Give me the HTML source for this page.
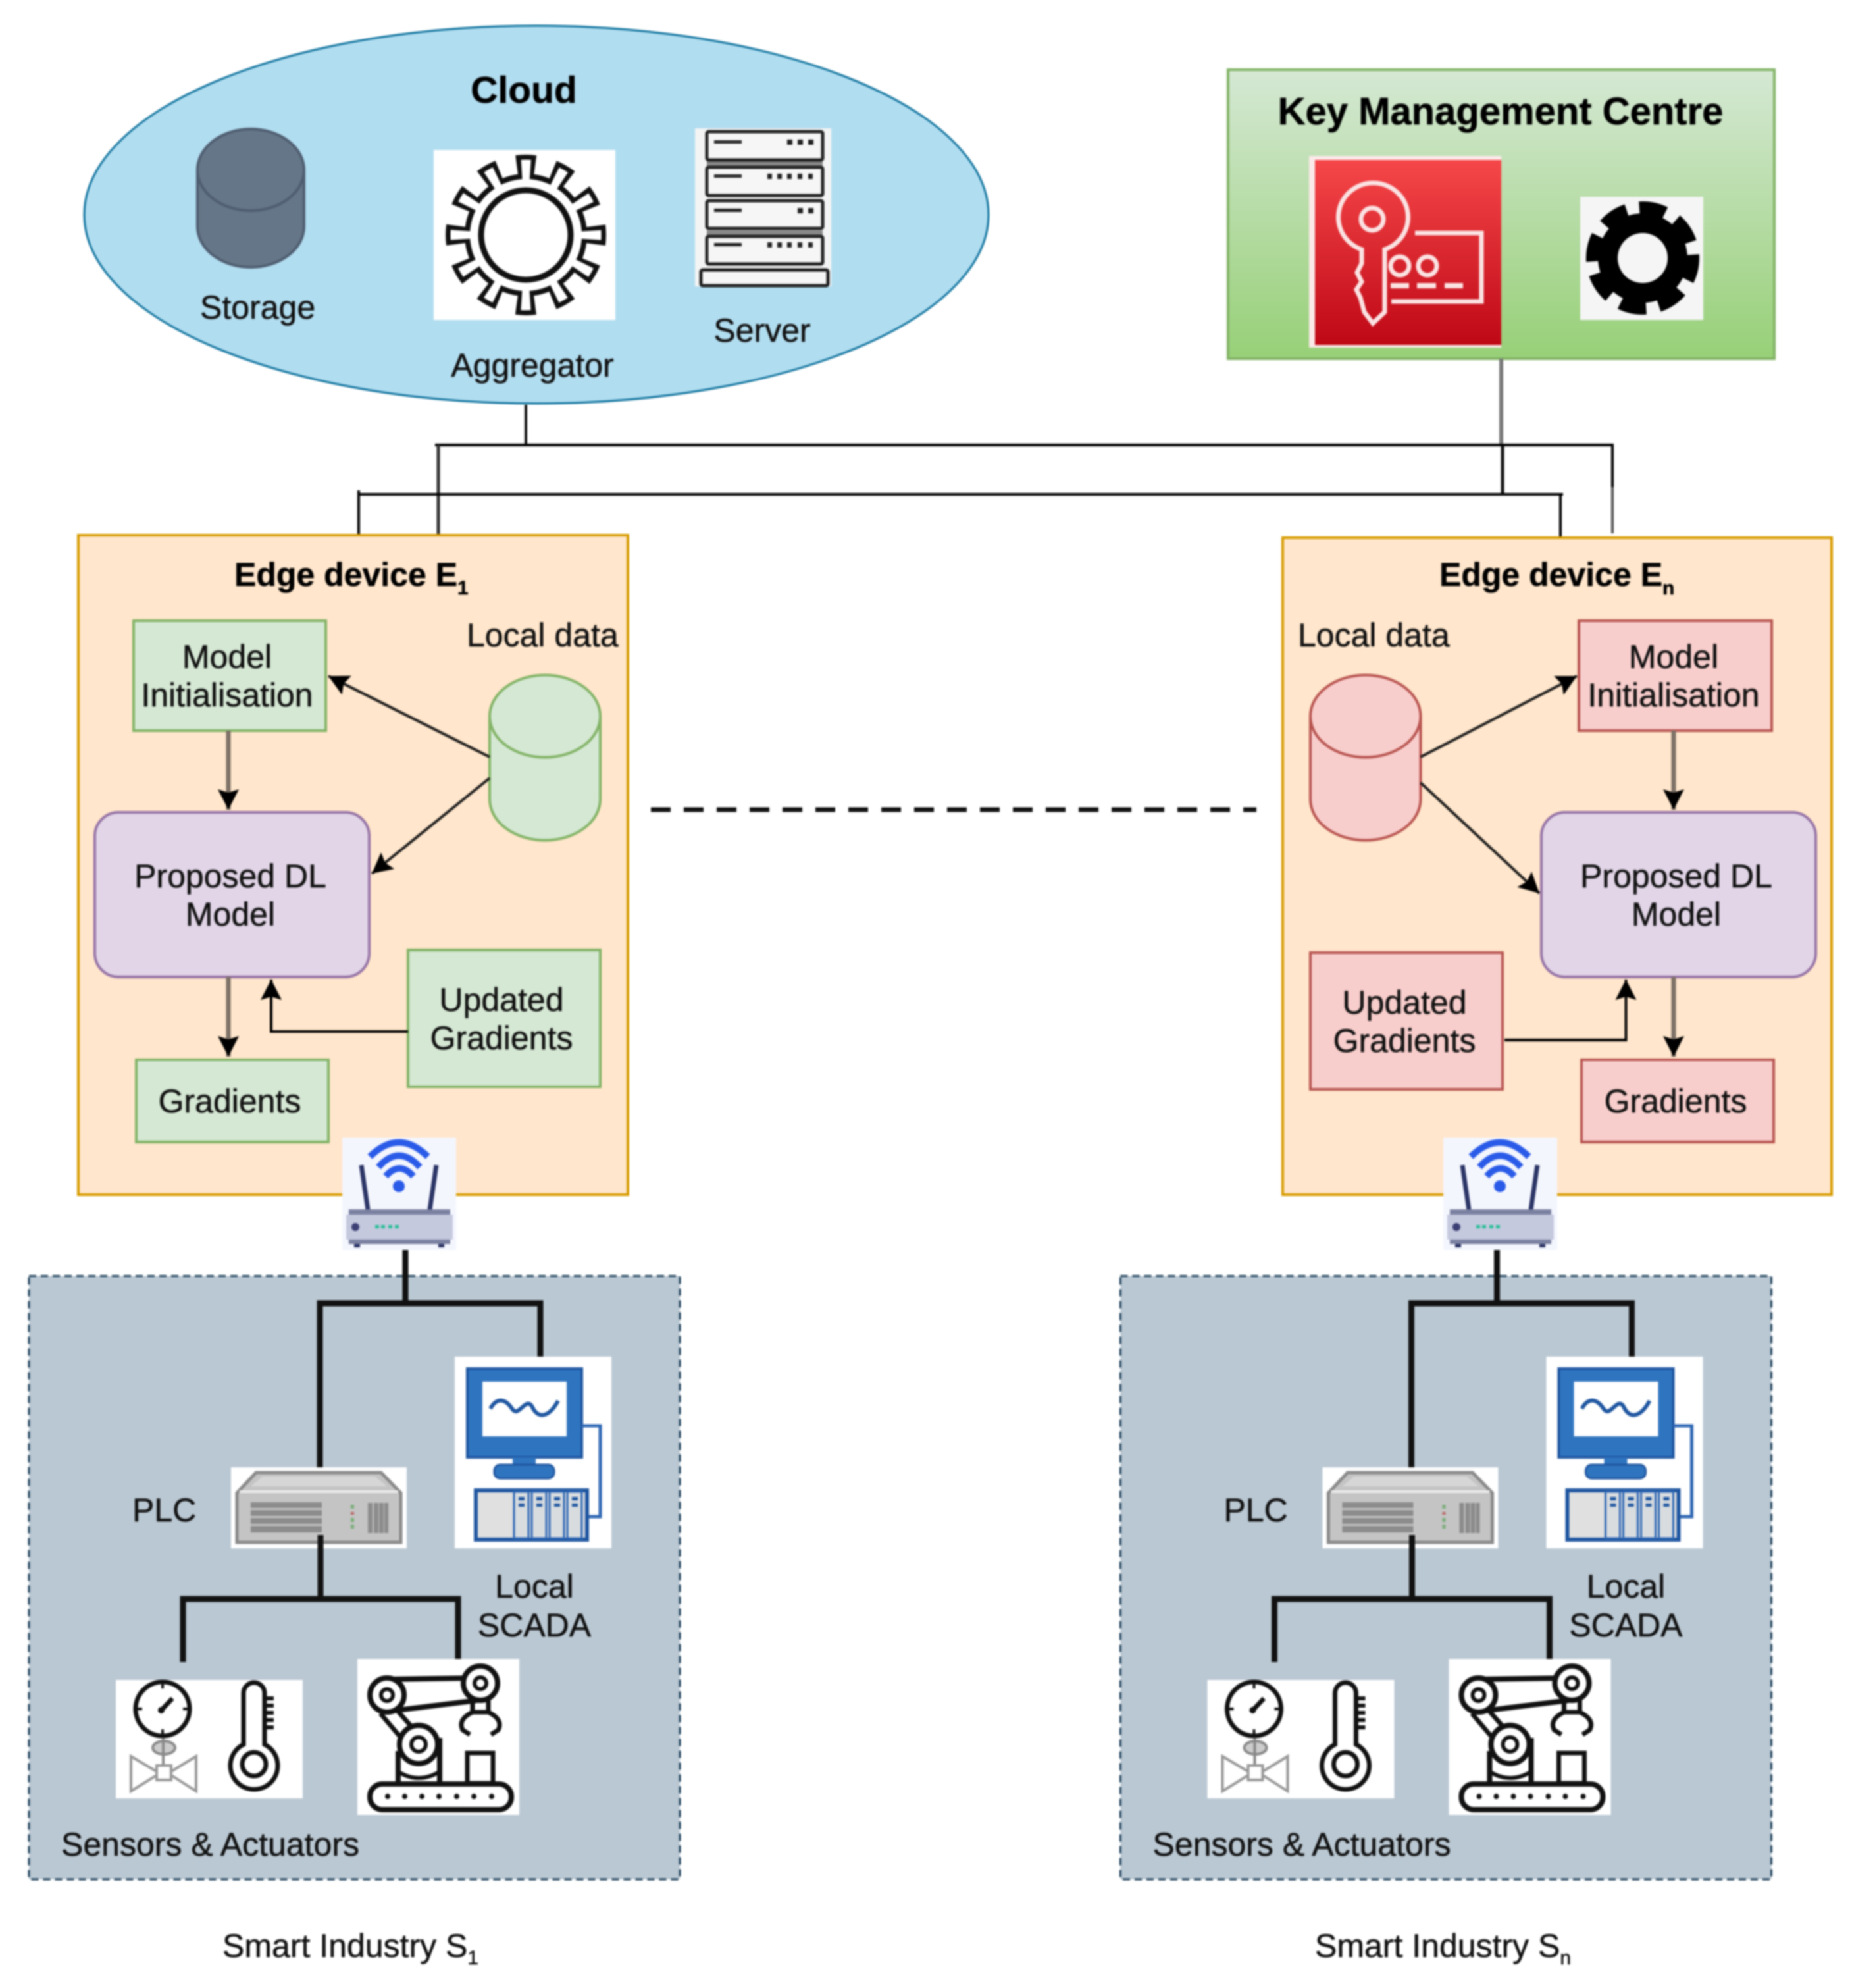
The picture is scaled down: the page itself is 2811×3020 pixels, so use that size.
<!DOCTYPE html>
<html>
<head>
<meta charset="utf-8">
<title>Edge federated learning architecture</title>
<style>
html,body{margin:0;padding:0;background:#fff;width:2811px;height:3020px;overflow:hidden}
svg{display:block;filter:blur(1.3px)}
text{font-family:"Liberation Sans",sans-serif;font-size:50px;fill:#111;stroke:#111;stroke-width:.5px}
.b{font-weight:700;fill:#000;stroke:#000}
.m{text-anchor:middle}
</style>
</head>
<body>
<svg width="2811" height="3020" viewBox="0 0 2811 3020" xmlns="http://www.w3.org/2000/svg">
<defs>
<linearGradient id="kmc" x1="0" y1="0" x2="0" y2="1"><stop offset="0" stop-color="#d5e8d4"/><stop offset="1" stop-color="#97d077"/></linearGradient>
<linearGradient id="red" x1="0" y1="0" x2="0" y2="1"><stop offset="0" stop-color="#f54749"/><stop offset="1" stop-color="#bf0816"/></linearGradient>
<marker id="ah" markerUnits="userSpaceOnUse" markerWidth="34" markerHeight="36" viewBox="0 -18 34 36" refX="31" refY="0" orient="auto">
<path d="M0,-16 L31,0 L0,16 L5,0 Z" fill="#000"/>
</marker>

<g id="router">
<rect x="520" y="1728" width="173" height="171" fill="#f4f6fe"/>
<g fill="none" stroke="#2a5be8" stroke-width="10">
<path d="M562,1757 Q606,1714 650,1757"/>
<path d="M575,1773 Q606,1738 638,1773"/>
<path d="M586,1787 Q607,1763 628,1787"/>
</g>
<circle cx="606" cy="1802" r="9" fill="#2a5be8"/>
<path d="M549,1770 L559,1838 M663,1770 L653,1838" stroke="#2b3566" stroke-width="7" fill="none"/>
<rect x="530" y="1837" width="154" height="9" fill="#7a80a0"/>
<rect x="526" y="1845" width="162" height="38" fill="#c5c9de"/>
<rect x="530" y="1883" width="154" height="7" fill="#7a80a0"/>
<rect x="538" y="1890" width="9" height="5" fill="#2b3566"/>
<rect x="666" y="1890" width="9" height="5" fill="#2b3566"/>
<circle cx="540" cy="1864" r="6" fill="#3b3f73"/>
<g fill="#2fbf9a"><rect x="570" y="1861" width="6" height="5"/><rect x="579" y="1861" width="6" height="5"/><rect x="590" y="1861" width="6" height="5"/><rect x="600" y="1861" width="6" height="5"/></g>
</g>

<g id="sind">
<rect x="44" y="1938.5" width="989" height="916.5" fill="#bac8d3" stroke="#23445d" stroke-width="3" stroke-dasharray="11 7"/>
<path d="M616,1890 V1980" stroke="#111" stroke-width="9" fill="none"/>
<path d="M486,2232 V1980 H821 V2063" stroke="#111" stroke-width="9" fill="none"/>

<!-- PLC -->
<rect x="351" y="2229" width="267" height="123" fill="#fff"/>
<path d="M360,2268 L389,2237 H579 L609,2268 V2343 H360 Z" fill="#c4c4c4" stroke="#8a8a8a" stroke-width="5"/>
<path d="M381,2258 L399,2243 H570 L588,2258 Z" fill="#d6d6d6"/>
<path d="M364,2266 H605" stroke="#ececec" stroke-width="4"/>
<g fill="#8c8c8c"><rect x="381" y="2282" width="108" height="9"/><rect x="381" y="2294" width="108" height="9"/><rect x="381" y="2306" width="108" height="9"/><rect x="381" y="2318" width="108" height="10"/></g>
<g fill="#7cae7c"><rect x="533" y="2286" width="5" height="6"/><rect x="533" y="2306" width="5" height="6"/><rect x="533" y="2316" width="5" height="6"/></g>
<rect x="533" y="2297" width="5" height="4" fill="#b66"/>
<g fill="#8c8c8c"><rect x="559" y="2283" width="7" height="46"/><rect x="568" y="2283" width="7" height="46"/><rect x="576" y="2283" width="7" height="46"/><rect x="584" y="2283" width="6" height="46"/></g>
<path d="M487,2332 V2429 M278,2525 V2429 H696 V2525" stroke="#111" stroke-width="9" fill="none"/>

<!-- SCADA -->
<rect x="691" y="2061" width="238" height="291" fill="#fff"/>
<rect x="710" y="2079" width="174" height="135" fill="#2f74bf" stroke="#1f56a0" stroke-width="4"/>
<rect x="733" y="2099" width="128" height="83" fill="#fff"/>
<path d="M745,2140 C755,2122 768,2125 778,2140 C788,2155 798,2122 808,2136 C818,2158 835,2152 848,2128" fill="none" stroke="#1f56a0" stroke-width="6"/>
<rect x="779" y="2214" width="35" height="12" fill="#2f74bf"/>
<rect x="751" y="2225" width="91" height="21" rx="9" fill="#2f74bf" stroke="#1f56a0" stroke-width="3"/>
<path d="M884,2166 H912 V2304 H892" fill="none" stroke="#2f67b4" stroke-width="5"/>
<rect x="723" y="2264" width="169" height="75" fill="#e0e0e0" stroke="#1f56a0" stroke-width="6"/>
<g fill="#d8dcdf" stroke="#2f67b4" stroke-width="3"><rect x="781" y="2266" width="22" height="71"/><rect x="808" y="2266" width="22" height="71"/><rect x="835" y="2266" width="22" height="71"/><rect x="862" y="2266" width="22" height="71"/></g>
<g fill="#1f56a0"><rect x="788" y="2274" width="9" height="5"/><rect x="788" y="2284" width="9" height="5"/><rect x="815" y="2274" width="9" height="5"/><rect x="815" y="2284" width="9" height="5"/><rect x="842" y="2274" width="9" height="5"/><rect x="842" y="2284" width="9" height="5"/><rect x="869" y="2274" width="9" height="5"/><rect x="869" y="2284" width="9" height="5"/></g>

<!-- Sensors -->
<rect x="176" y="2552" width="284" height="180" fill="#fff"/>
<circle cx="247" cy="2596" r="41" fill="#fff" stroke="#111" stroke-width="7"/>
<path d="M247,2596 L262,2580" stroke="#111" stroke-width="7"/>
<circle cx="245" cy="2598" r="5" fill="#111"/>
<path d="M247,2557 V2565 M247,2627 V2635 M208,2596 H216 M278,2596 H286" stroke="#111" stroke-width="4"/>
<ellipse cx="249" cy="2655" rx="17" ry="10" fill="#ccc" stroke="#888" stroke-width="4"/>
<path d="M248,2640 V2682" stroke="#888" stroke-width="4"/>
<path d="M199,2668 L236,2690 H262 L298,2668 V2721 L262,2698 H236 L199,2721 Z" fill="#fff" stroke="#999" stroke-width="4"/>
<rect x="238" y="2682" width="22" height="22" fill="#fff" stroke="#999" stroke-width="4"/>
<path d="M370,2650 V2572 A16,16 0 0 1 402,2572 V2650 A36,36 0 1 1 370,2650 Z" fill="#fff" stroke="#111" stroke-width="7"/>
<circle cx="386" cy="2680" r="18" fill="#fff" stroke="#111" stroke-width="7"/>
<path d="M402,2580 H416 M402,2591 H416 M402,2602 H416 M402,2613 H416 M402,2624 H416" stroke="#111" stroke-width="6"/>

<!-- Robot -->
<rect x="543" y="2520" width="246" height="237" fill="#fff"/>
<path d="M592,2551 L725,2549 M596,2599 L725,2583" stroke="#111" stroke-width="8" fill="none"/>
<path d="M605,2600 L636,2635 M578,2603 L612,2643" stroke="#111" stroke-width="7" fill="none"/>
<path d="M605,2660 V2711 M668,2640 V2711" stroke="#111" stroke-width="8" fill="none"/>
<path d="M606,2692 Q636,2710 667,2692" fill="none" stroke="#111" stroke-width="6"/>
<circle cx="588" cy="2575" r="26" fill="#fff" stroke="#111" stroke-width="8"/>
<circle cx="588" cy="2575" r="9" fill="#fff" stroke="#111" stroke-width="6"/>
<circle cx="730" cy="2557" r="26" fill="#fff" stroke="#111" stroke-width="8"/>
<circle cx="730" cy="2557" r="9" fill="#fff" stroke="#111" stroke-width="6"/>
<circle cx="636" cy="2650" r="29" fill="#fff" stroke="#111" stroke-width="8"/>
<circle cx="636" cy="2650" r="11" fill="#fff" stroke="#111" stroke-width="6"/>
<path d="M718,2583 V2601 H742 V2583 M718,2601 Q695,2612 703,2628 L714,2635 M742,2601 Q765,2612 757,2628 L746,2635" fill="none" stroke="#111" stroke-width="7"/>
<rect x="710" y="2663" width="39" height="46" fill="#fff" stroke="#111" stroke-width="7"/>
<rect x="562" y="2710" width="215" height="39" rx="19" fill="#fff" stroke="#111" stroke-width="8"/>
<g fill="#111"><circle cx="589" cy="2729" r="4"/><circle cx="615" cy="2729" r="4"/><circle cx="641" cy="2729" r="4"/><circle cx="667" cy="2729" r="4"/><circle cx="694" cy="2729" r="4"/><circle cx="720" cy="2729" r="4"/><circle cx="747" cy="2729" r="4"/></g>
</g>
</defs>

<!-- Cloud -->
<ellipse cx="815" cy="326" rx="687" ry="287" fill="#b1ddf0" stroke="#10739e" stroke-width="3"/>
<text class="b m" x="796" y="156" style="font-size:57px">Cloud</text>
<path d="M300,258 A81,62 0 0 1 462,258 V344 A81,62 0 0 1 300,344 Z" fill="#647687" stroke="#4f5d70" stroke-width="4"/>
<path d="M300,258 A81,62 0 0 0 462,258" fill="none" stroke="#4f5d70" stroke-width="4"/>
<text x="304" y="484">Storage</text>

<rect x="659" y="228" width="276" height="258" fill="#fff"/>
<circle cx="799" cy="357" r="93" fill="#111"/>
<circle cx="799" cy="357" r="106" fill="none" stroke="#111" stroke-width="32" stroke-dasharray="28 27.5" stroke-dashoffset="14"/>
<circle cx="799" cy="357" r="85" fill="#fff"/>
<circle cx="799" cy="357" r="97" fill="none" stroke="#fff" stroke-width="35" stroke-dasharray="13 37.79" stroke-dashoffset="6.500"/>
<circle cx="799" cy="357" r="68" fill="#fff" stroke="#111" stroke-width="9"/>
<text class="m" x="809" y="572">Aggregator</text>

<rect x="1056" y="195" width="207" height="240" fill="#f4f4f4"/>
<rect x="1074" y="245" width="176" height="7" fill="#888"/>
<rect x="1074" y="350" width="176" height="7" fill="#888"/>
<g fill="#f6f6f6" stroke="#222" stroke-width="5">
<rect x="1074" y="200" width="176" height="43" rx="3"/>
<rect x="1074" y="254" width="176" height="43" rx="3"/>
<rect x="1074" y="305" width="176" height="42" rx="3"/>
<rect x="1074" y="359" width="176" height="42" rx="3"/>
<rect x="1065" y="410" width="193" height="24" rx="3"/>
</g>
<g fill="#222">
<rect x="1085" y="213" width="42" height="5"/><rect x="1085" y="265" width="42" height="5"/><rect x="1085" y="317" width="42" height="5"/><rect x="1085" y="369" width="42" height="5"/>
<rect x="1196" y="212" width="8" height="8"/><rect x="1212" y="212" width="8" height="8"/><rect x="1228" y="212" width="8" height="8"/>
<rect x="1166" y="264" width="7" height="8"/><rect x="1181" y="264" width="7" height="8"/><rect x="1196" y="264" width="7" height="8"/><rect x="1212" y="264" width="7" height="8"/><rect x="1228" y="264" width="7" height="8"/>
<rect x="1212" y="316" width="8" height="8"/><rect x="1228" y="316" width="8" height="8"/>
<rect x="1166" y="368" width="7" height="8"/><rect x="1181" y="368" width="7" height="8"/><rect x="1196" y="368" width="7" height="8"/><rect x="1212" y="368" width="7" height="8"/><rect x="1228" y="368" width="7" height="8"/>
</g>
<text class="m" x="1158" y="519">Server</text>

<!-- KMC -->
<rect x="1866" y="106" width="830" height="439" fill="url(#kmc)" stroke="#82b366" stroke-width="4"/>
<text class="b m" x="2280" y="189" style="font-size:58px">Key Management Centre</text>
<rect x="1989" y="237" width="292" height="291" fill="#fbe9e9"/>
<rect x="1998" y="243" width="283" height="281" fill="url(#red)"/>
<g fill="none" stroke="#fbe3e3" stroke-width="7">
<path d="M2069,379 A53,52 0 1 1 2104,379 V474 L2086,491 L2073,474 L2067,452 L2061,440 L2069,428 L2062,414 L2069,400 Z"/>
<circle cx="2085" cy="333" r="17"/>
<path d="M2150,354 H2251 V458 H2114"/>
<circle cx="2127" cy="404" r="14"/>
<circle cx="2169" cy="404" r="14"/>
<path d="M2113,434 H2141 M2153,434 H2182 M2195,434 H2223" stroke-width="8"/>
</g>
<rect x="2401" y="299" width="187" height="187" fill="#f5f5f5"/>
<circle cx="2496" cy="392" r="68" fill="#000"/>
<circle cx="2496" cy="392" r="72" fill="none" stroke="#000" stroke-width="28" stroke-dasharray="38 18.55" stroke-dashoffset="5"/>
<circle cx="2496" cy="392" r="38" fill="#f5f5f5"/>

<!-- Top connectors -->
<path d="M2281,545 V676" stroke="#777" stroke-width="6" fill="none"/>
<path d="M2283,676 V751" stroke="#111" stroke-width="5" fill="none"/>
<path d="M799,615 V676" stroke="#111" stroke-width="4" fill="none"/>
<path d="M661,676 H2450 V810" stroke="#000" stroke-width="4" fill="none"/>
<path d="M2450,740 V810" stroke="#555" stroke-width="4" fill="none"/>
<path d="M666,676 V813" stroke="#333" stroke-width="5" fill="none"/>
<path d="M545,813 V745 M545,751 H2375 M2371,751 V816" stroke="#000" stroke-width="4" fill="none"/>

<!-- Edge 1 -->
<rect x="119" y="813" width="835" height="1002" fill="#ffe6cc" stroke="#d79b00" stroke-width="4"/>
<text class="b" x="356" y="890">Edge device E<tspan dy="13" style="font-size:30px">1</tspan></text>
<rect x="203" y="943" width="292" height="167" fill="#d5e8d4" stroke="#82b366" stroke-width="4"/>
<text class="m" x="345" y="1015">Model</text>
<text class="m" x="345" y="1073">Initialisation</text>
<text x="709" y="982">Local data</text>
<path d="M744,1088 A84,62.500 0 0 1 912,1088 V1214 A84,62.500 0 0 1 744,1214 Z" fill="#d5e8d4" stroke="#82b366" stroke-width="4"/>
<path d="M744,1088 A84,62.500 0 0 0 912,1088" fill="none" stroke="#82b366" stroke-width="4"/>
<path d="M744,1150 L499,1027" stroke="#1a1a1a" stroke-width="4" marker-end="url(#ah)"/>
<path d="M744,1182 L565,1327" stroke="#1a1a1a" stroke-width="4" marker-end="url(#ah)"/>
<rect x="144" y="1234" width="417" height="250" rx="36" fill="#e1d5e7" stroke="#9673a6" stroke-width="4"/>
<text class="m" x="350" y="1348">Proposed DL</text>
<text class="m" x="350" y="1406">Model</text>
<path d="M347,1110 V1230" stroke="#7d7166" stroke-width="7" marker-end="url(#ah)"/>
<path d="M347,1484 V1605" stroke="#7d7166" stroke-width="7" marker-end="url(#ah)"/>
<rect x="207" y="1610" width="292" height="125" fill="#d5e8d4" stroke="#82b366" stroke-width="4"/>
<text class="m" x="349" y="1690">Gradients</text>
<rect x="620" y="1443" width="292" height="208" fill="#d5e8d4" stroke="#82b366" stroke-width="4"/>
<text class="m" x="762" y="1536">Updated</text>
<text class="m" x="762" y="1594">Gradients</text>
<path d="M620,1567 H412 V1488" fill="none" stroke="#000" stroke-width="4" marker-end="url(#ah)"/>

<!-- Edge n -->
<rect x="1949" y="817" width="834" height="998" fill="#ffe6cc" stroke="#d79b00" stroke-width="4"/>
<text class="b" x="2187" y="890">Edge device E<tspan dy="13" style="font-size:30px">n</tspan></text>
<text x="1972" y="982">Local data</text>
<rect x="2399" y="943" width="293" height="167" fill="#f8cecc" stroke="#b85450" stroke-width="4"/>
<text class="m" x="2543" y="1015">Model</text>
<text class="m" x="2543" y="1073">Initialisation</text>
<path d="M1991,1088 A83.750,62.500 0 0 1 2158.500,1088 V1214 A83.750,62.500 0 0 1 1991,1214 Z" fill="#f8cecc" stroke="#b85450" stroke-width="4"/>
<path d="M1991,1088 A83.750,62.500 0 0 0 2158.500,1088" fill="none" stroke="#b85450" stroke-width="4"/>
<path d="M2158.500,1150 L2396,1027" stroke="#1a1a1a" stroke-width="4" marker-end="url(#ah)"/>
<path d="M2158.500,1189 L2339,1357" stroke="#1a1a1a" stroke-width="4" marker-end="url(#ah)"/>
<rect x="2342" y="1234" width="417" height="250" rx="36" fill="#e1d5e7" stroke="#9673a6" stroke-width="4"/>
<text class="m" x="2547" y="1348">Proposed DL</text>
<text class="m" x="2547" y="1406">Model</text>
<path d="M2543,1110 V1230" stroke="#7d7166" stroke-width="7" marker-end="url(#ah)"/>
<path d="M2543,1484 V1605" stroke="#7d7166" stroke-width="7" marker-end="url(#ah)"/>
<rect x="2403" y="1610" width="292" height="125" fill="#f8cecc" stroke="#b85450" stroke-width="4"/>
<text class="m" x="2546" y="1690">Gradients</text>
<rect x="1991" y="1447" width="292" height="208" fill="#f8cecc" stroke="#b85450" stroke-width="4"/>
<text class="m" x="2134" y="1540">Updated</text>
<text class="m" x="2134" y="1598">Gradients</text>
<path d="M2286,1580 H2470.500 V1488" fill="none" stroke="#000" stroke-width="4" marker-end="url(#ah)"/>

<!-- Dashed link -->
<path d="M989,1230 H1909" stroke="#111" stroke-width="7" stroke-dasharray="30 20" fill="none"/>

<!-- Smart industries -->
<use href="#sind"/>
<use href="#sind" transform="translate(1658.500,0)"/>
<use href="#router"/>
<use href="#router" transform="translate(1673,0)"/>

<text x="201" y="2311">PLC</text>
<text class="m" x="812" y="2427">Local</text>
<text class="m" x="812" y="2486">SCADA</text>
<text x="93" y="2819">Sensors &amp; Actuators</text>
<text x="338" y="2973">Smart Industry S<tspan dy="11" style="font-size:30px">1</tspan></text>

<text x="1859.500" y="2311">PLC</text>
<text class="m" x="2470.500" y="2427">Local</text>
<text class="m" x="2470.500" y="2486">SCADA</text>
<text x="1751.500" y="2819">Sensors &amp; Actuators</text>
<text x="1998" y="2973">Smart Industry S<tspan dy="11" style="font-size:30px">n</tspan></text>
</svg>
</body>
</html>
